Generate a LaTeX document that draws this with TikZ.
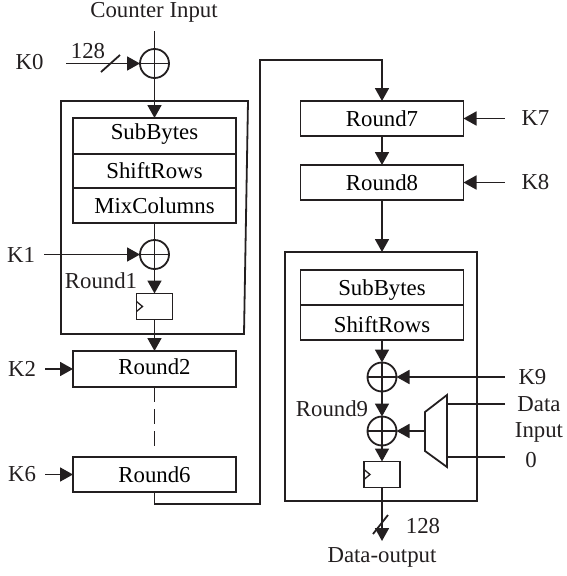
\documentclass[tikz,border=0pt]{standalone}
\usepackage{fontspec}
\setmainfont{Liberation Serif}
\usepackage{tikz}
\usetikzlibrary{arrows.meta, positioning}
\definecolor{aesdark}{RGB}{35,31,32}
\tikzset{
  %% ---- boxes ----
  stage/.style  = {rectangle, draw=aesdark, line width=1.8pt, outer sep=0pt, inner sep=0pt,
                   minimum width=163pt, minimum height=#1},
  stage/.default = 35pt,
  xorop/.style  = {circle, draw=aesdark, line width=1.8pt, outer sep=0pt, inner sep=0pt,
                   minimum size=29pt,
                   path picture={
                     \draw[line width=1.5pt, aesdark] (path picture bounding box.north) -- (path picture bounding box.south);
                     \draw[line width=1.5pt, aesdark] (path picture bounding box.west) -- (path picture bounding box.east);}},
  regbox/.style = {rectangle, draw=aesdark, line width=1.8pt, outer sep=0pt, inner sep=0pt,
                   minimum width=36pt, minimum height=26pt,
                   path picture={
                     \draw[line width=1.3pt, aesdark] ([yshift=5pt]path picture bounding box.west) -- ++(6pt,-5pt) -- ++(-6pt,-5pt);}},
  frame/.style  = {draw=aesdark, line width=1.8pt},
  lbl/.style    = {inner sep=0pt, outer sep=0pt, text=aesdark},
  %% ---- arrows ----
  wire/.style   = {line width=1.8pt, draw=aesdark},
  arr/.style    = {wire, -{Stealth[length=13pt, width=14pt, inset=0pt]}},
  keyarr/.style = {arr, shorten <=#1},
  keyarr/.default = 9pt,
}
\begin{document}
\begin{tikzpicture}[
  x=1pt, y=-1pt,
  every node/.style = {font=\fontsize{22.8}{26}\selectfont}
]
\useasboundingbox (0,0) rectangle (566,576);
%% left column
\node[lbl]                      (ctr)  at (154,12) {Counter Input};
\coordinate                     (ctrin) at (154.5,31);
\node[xorop]                    (x0)   at (154.5,63.5) {};
\node[lbl]                      (k0)   at (29.5,62) {K0};
\coordinate                     (k0in) at (66,63.5);
\node[lbl]                      (w0)   at (88,51) {128};
\node[stage=36pt, text depth=9pt] (sb1)  at (154.5,136) {SubBytes};
\node[stage=34pt, below=0pt of sb1] (sr1) {ShiftRows};
\node[stage=35pt, below=0pt of sr1] (mc1) {MixColumns};
\node[xorop, below=17pt of mc1] (x1)   {};
\node[lbl, left=105pt of x1]    (k1)   {K1};
\node[lbl]                      (l1)   at (101,281) {Round1};
\node[regbox]                   (reg1) at (154.5,306.5) {};
\node[stage=36pt, text depth=4pt] (r2)   at (154.5,369) {Round2};
\node[stage=35pt, below=70pt of r2] (r6) {Round6};
\node[lbl, left=37pt of r2]     (k2)   {K2};
\node[lbl, left=37pt of r6]     (k6)   {K6};
\coordinate                     (turnb) at (260,504);
\coordinate                     (turnt) at (260,60);
%% right column
\node[stage]                    (r7)   at (382,118.5) {Round7};
\node[stage, below=29pt of r7]  (r8)   {Round8};
\node[lbl, right=58pt of r7]    (k7)   {K7};
\node[lbl, right=58pt of r8]    (k8)   {K8};
\node[frame, minimum width=192pt, minimum height=249pt, outer sep=0pt] (fr2) at (381,376.5) {};
\node[stage, text height=21pt]  (sb2)  at (382,287.5) {SubBytes};
\node[stage, text height=20pt, below=0pt of sb2]  (sr2)  {ShiftRows};
\node[xorop]                    (x9)   at (382,377) {};
\node[xorop]                    (xd)   at (382,431) {};
\node[lbl]                      (l9)   at (332,409) {Round9};
\node[lbl, right=122pt of x9]   (k9)   {K9};
\node[lbl]                      (data) at (539,404) {Data};
\node[lbl]                      (inp)  at (539,432) {Input};
\node[lbl]                      (zero) at (531,460) {0};
\coordinate                     (dataend) at (505,404);
\coordinate                     (zeroend) at (505,457);
\coordinate                     (muxa) at (447,404);
\coordinate                     (muxb) at (447,457);
\coordinate                     (muxout) at (425,431);
\node[regbox]                   (reg9) at (382,474.5) {};
\coordinate                     (dout) at (382,541);
\node[lbl]                      (w9)   at (423,526) {128};
\node[lbl]                      (out)  at (382,557) {Data-output};
%% frames and mux
\draw[frame] (61,101) -- (248,101) -- (244,334) -- (61,334) -- cycle;
\draw[frame] (425,412) -- (447,395) -- (447,467) -- (425,451) -- cycle;
%% connectors
\draw[wire] (ctrin) -- (x0);
\draw[arr] (k0in) -- (x0);
\draw[wire] (101,72) -- (120,55);
\draw[arr] (x0) -- (sb1);
\draw[wire] (mc1) -- (x1);
\draw[keyarr] (k1) -- (x1);
\draw[arr] (x1) -- (reg1);
\draw[arr] (reg1) -- (r2);
\draw[keyarr] (k2) -- (r2);
\draw[keyarr] (k6) -- (r6);
\draw[wire, dash pattern=on 15pt off 7pt, shorten >=9pt] (r2) -- (r6);
\draw[arr] (r6.south) |- (turnb) -- (turnt) -| (r7.north);
\draw[arr] (r7) -- (r8);
\draw[keyarr=17pt] (k7) -- (r7);
\draw[keyarr=17pt] (k8) -- (r8);
\draw[arr] (r8) -- (r8 |- fr2.north);
\draw[arr] (sr2) -- (x9);
\draw[keyarr=14pt] (k9) -- (x9);
\draw[arr] (x9) -- (xd);
\draw[arr] (muxout) -- (xd);
\draw[wire] (dataend) -- (muxa);
\draw[wire] (zeroend) -- (muxb);
\draw[arr] (xd) -- (reg9);
\draw[arr] (reg9) -- (dout);
\draw[wire] (373,534) -- (388,515);
\end{tikzpicture}
\end{document}
